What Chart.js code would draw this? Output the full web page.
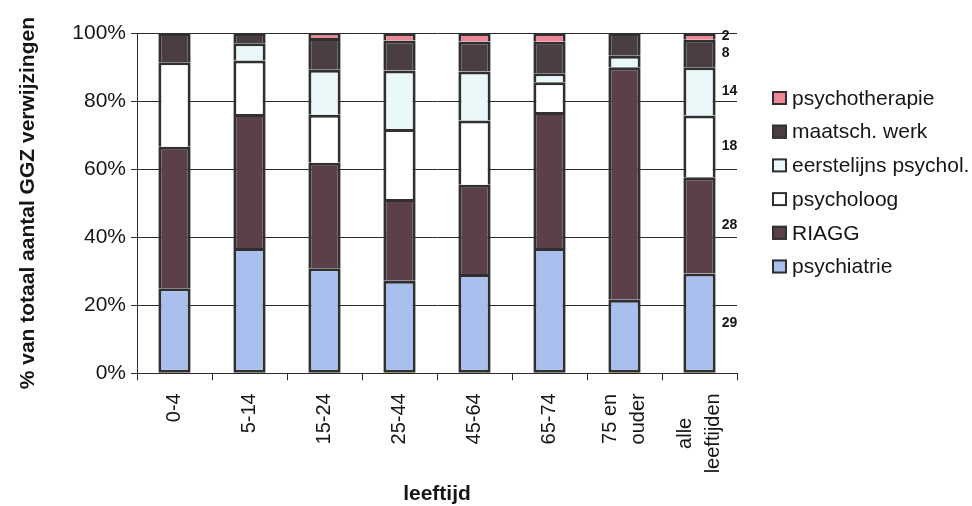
<!DOCTYPE html>
<html>
<head>
<meta charset="utf-8">
<script src="https://cdn.jsdelivr.net/npm/chart.js@4.4.1/dist/chart.umd.min.js"></script>
<style>
  html, body { margin: 0; padding: 0; background: #ffffff; }
  #wrap { width: 972px; height: 506px; position: relative; }
</style>
</head>
<body>
<div id="wrap"><canvas id="c" width="972" height="506"></canvas></div>
<script>
// Age groups on the x axis
const categories = ['0-4', '5-14', '15-24', '25-44', '45-64', '65-74', ['75 en', 'ouder'], ['alle', 'leeftijden']];

// Share of GGZ referrals per type of care (percent of all referrals in the age group)
const psychiatrie    = [25.0, 36.8, 30.9, 27.2, 29.2, 36.8, 21.6, 29];
const riagg          = [41.6, 39.4, 31.0, 24.0, 26.2, 40.0, 68.3, 28];
const psycholoog     = [24.8, 15.7, 14.1, 20.6, 18.9,  8.7,  0.0, 18];
const eerstelijns    = [ 0.0,  5.1, 13.2, 17.2, 14.4,  2.7,  3.4, 14];
const maatschWerk    = [ 8.6,  3.0,  9.3,  8.8,  8.8,  9.2,  6.7,  8];
const psychotherapie = [ 0.0,  0.0,  1.5,  2.2,  2.5,  2.6,  0.0,  2];

const seriesNames  = ['psychiatrie', 'RIAGG', 'psycholoog', 'eerstelijns psychol.', 'maatsch. werk', 'psychotherapie'];
const seriesColors = ['#a9c0ee', '#5b3f4b', '#ffffff', '#eaf8fa', '#4a3e42', '#ef8797'];
const yTickValues  = [0, 20, 40, 60, 80, 100];

const series = [psychiatrie, riagg, psycholoog, eerstelijns, maatschWerk, psychotherapie];

// 100% stacked: every column is scaled to its own total
const totals = categories.map((_, i) => series.reduce((s, arr) => s + arr[i], 0));
const shares = series.map(arr => arr.map((v, i) => v / totals[i] * 100));

const TEXT = '#161616';
const LINE = '#2a2a2a';
const EDGE = '#303030';
const FONT = '"Liberation Sans", Arial, sans-serif';

// Rotated category labels under the x axis; lines of a two-line label sit side by side
const xLabels = {
  id: 'xLabels',
  afterDraw(chart) {
    const ctx = chart.ctx;
    const xs = chart.scales.x;
    const lineGap = 28;
    ctx.save();
    ctx.font = '20px ' + FONT;
    ctx.fillStyle = TEXT;
    ctx.textAlign = 'center';
    ctx.textBaseline = 'middle';
    categories.forEach((lab, i) => {
      const lines = Array.isArray(lab) ? lab : [lab];
      const w = Math.max(...lines.map(l => ctx.measureText(l).width));
      const cx = xs.getPixelForTick(i);
      const top = xs.top + 20;
      lines.forEach((line, j) => {
        const x = cx + (j - (lines.length - 1) / 2) * lineGap;
        ctx.save();
        ctx.translate(x, top + w / 2);
        ctx.rotate(-Math.PI / 2);
        ctx.fillText(line, 0, 0);
        ctx.restore();
      });
    });
    ctx.restore();
  }
};

// Value labels next to the last column ("alle leeftijden")
const sideLabels = {
  id: 'sideLabels',
  afterDatasetsDraw(chart) {
    const ctx = chart.ctx;
    const last = categories.length - 1;
    ctx.save();
    ctx.font = 'bold 14px ' + FONT;
    ctx.fillStyle = TEXT;
    ctx.textAlign = 'left';
    ctx.textBaseline = 'middle';
    chart.data.datasets.forEach((ds, d) => {
      const el = chart.getDatasetMeta(d).data[last];
      if (!el) return;
      const p = el.getProps(['x', 'y', 'base', 'width'], true);
      ctx.fillText(String(series[d][last]), p.x + p.width / 2 + 6, (p.y + p.base) / 2);
    });
    ctx.restore();
  }
};

// Legend column on the right, top entry = top of the stack
const sideLegend = {
  id: 'sideLegend',
  afterDraw(chart) {
    const ctx = chart.ctx;
    const x0 = 772, y0 = 98, step = 33.7, bw = 15, bh = 14;
    ctx.save();
    ctx.font = '21px ' + FONT;
    ctx.textAlign = 'left';
    ctx.textBaseline = 'middle';
    const n = chart.data.datasets.length;
    for (let k = 0; k < n; k++) {
      const ds = chart.data.datasets[n - 1 - k];
      const cy = y0 + k * step;
      ctx.fillStyle = ds.backgroundColor;
      ctx.fillRect(x0, cy - bh / 2, bw, bh);
      ctx.lineWidth = 2;
      ctx.strokeStyle = EDGE;
      ctx.strokeRect(x0 + 1, cy - bh / 2 + 1, bw - 2, bh - 2);
      ctx.fillStyle = TEXT;
      ctx.fillText(ds.label, x0 + bw + 5, cy + 1);
    }
    ctx.restore();
  }
};

new Chart(document.getElementById('c'), {
  type: 'bar',
  data: {
    labels: categories,
    datasets: seriesNames.map((name, i) => ({
      label: name,
      data: shares[i],
      backgroundColor: seriesColors[i],
      borderColor: EDGE,
      borderWidth: 3,
      borderSkipped: i === 0 ? false : 'start',
      barPercentage: 0.86,
      categoryPercentage: 0.5
    }))
  },
  options: {
    responsive: false,
    animation: false,
    devicePixelRatio: 1,
    layout: { padding: { top: 33, right: 235, bottom: 0, left: 0 } },
    plugins: {
      legend: { display: false },
      tooltip: { enabled: false }
    },
    scales: {
      x: {
        stacked: true,
        grid: { offset: true, drawOnChartArea: false, tickLength: 7, color: LINE, lineWidth: 1 },
        border: { display: true, color: LINE, width: 1 },
        ticks: { display: false, autoSkip: false },
        title: {
          display: true, text: 'leeftijd', color: TEXT,
          font: { family: FONT, size: 21, weight: 'bold' },
          padding: { top: 0, bottom: -1 }
        },
        afterFit(scale) { scale.height = 132.7; }
      },
      y: {
        stacked: true,
        min: 0, max: 100,
        afterBuildTicks(scale) { scale.ticks = yTickValues.map(v => ({ value: v })); },
        grid: { color: LINE, lineWidth: 1, tickLength: 6, drawTicks: true },
        border: { display: true, color: LINE, width: 1 },
        ticks: {
          color: TEXT,
          font: { family: FONT, size: 21 },
          padding: 5,
          callback: v => v + '%'
        },
        title: {
          display: true, text: '% van totaal aantal GGZ verwijzingen', color: TEXT,
          font: { family: FONT, size: 21, weight: 'bold' },
          padding: { top: 16, bottom: 0 }
        },
        afterFit(scale) { scale.width = 137; }
      }
    }
  },
  plugins: [xLabels, sideLabels, sideLegend]
});
</script>
</body>
</html>
